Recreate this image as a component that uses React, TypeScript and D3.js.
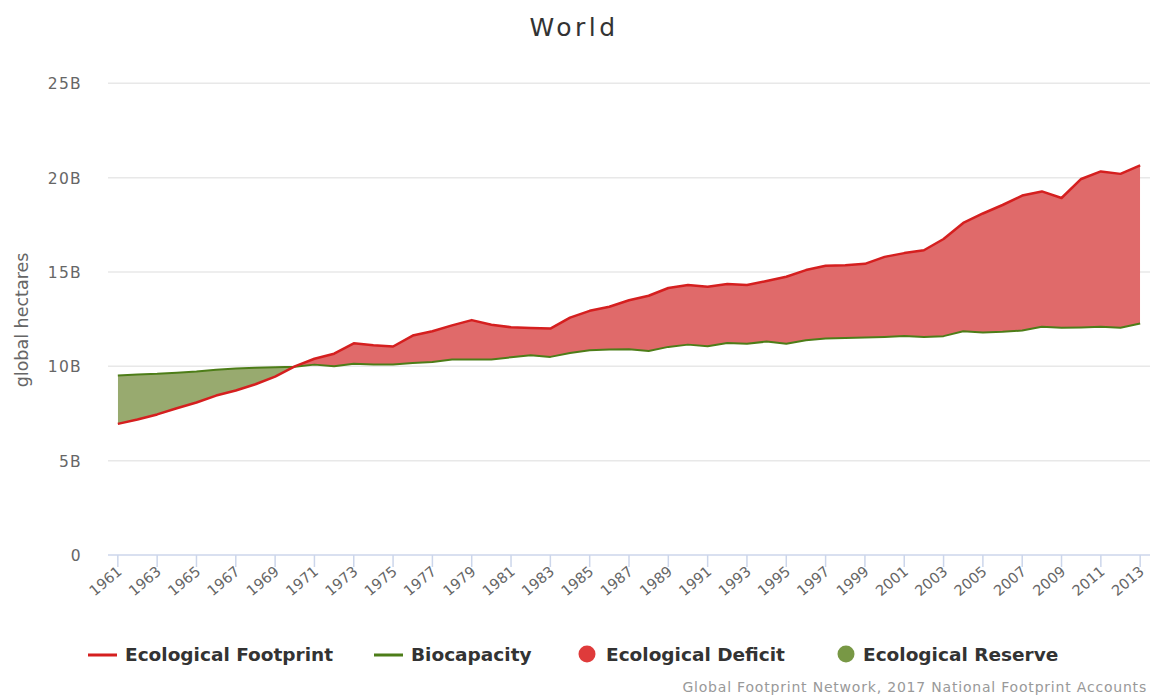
import React from 'react';
import * as d3 from 'd3';

const years = [1961,1962,1963,1964,1965,1966,1967,1968,1969,1970,1971,1972,1973,1974,1975,1976,1977,1978,1979,1980,1981,1982,1983,1984,1985,1986,1987,1988,1989,1990,1991,1992,1993,1994,1995,1996,1997,1998,1999,2000,2001,2002,2003,2004,2005,2006,2007,2008,2009,2010,2011,2012,2013];

// billions of global hectares
const footprint = [6.95,7.18,7.45,7.78,8.08,8.45,8.72,9.05,9.45,10.0,10.4,10.67,11.22,11.12,11.05,11.63,11.86,12.17,12.45,12.2,12.07,12.03,12.0,12.58,12.94,13.16,13.5,13.74,14.15,14.31,14.22,14.36,14.31,14.52,14.75,15.1,15.33,15.36,15.43,15.8,16.0,16.15,16.75,17.6,18.1,18.55,19.05,19.27,18.92,19.93,20.33,20.2,20.65];
const biocapacity = [9.52,9.57,9.6,9.66,9.72,9.82,9.88,9.92,9.95,9.98,10.09,10.0,10.14,10.1,10.1,10.18,10.23,10.36,10.36,10.36,10.48,10.59,10.5,10.71,10.85,10.89,10.9,10.81,11.03,11.15,11.06,11.24,11.2,11.31,11.2,11.38,11.47,11.5,11.53,11.56,11.61,11.56,11.6,11.86,11.79,11.83,11.9,12.1,12.04,12.06,12.1,12.04,12.27];

const yTicks = [0, 5, 10, 15, 20, 25];
const yTickLabels = ['0', '5B', '10B', '15B', '20B', '25B'];
const xTickYears = years.filter((_, i) => i % 2 === 0);

const legendLabels = ['Ecological Footprint', 'Biocapacity', 'Ecological Deficit', 'Ecological Reserve'];

const C = {
  fpLine: '#d51f1f',
  bcLine: '#4d7d18',
  deficit: '#e06a6a',
  reserve: '#98aa6f',
  deficitDot: '#df3b3b',
  reserveDot: '#789845',
};

export default function App() {
  const W = 1151, H = 696;
  const left = 108, right = 1150, top = 83.3, bottom = 555;
  const x = d3.scalePoint<number>().domain(years).range([left, right]).padding(0.5);
  const y = d3.scaleLinear().domain([0, 25]).range([bottom, top]);
  const data = years.map((yr, i) => ({ yr, fp: footprint[i], bc: biocapacity[i] }));
  type D = typeof data[number];
  const between = d3.area<D>().x(d => x(d.yr)!).y0(d => y(d.bc)).y1(d => y(d.fp))(data) || '';
  const aboveBio = d3.area<D>().x(d => x(d.yr)!).y0(0).y1(d => y(d.bc))(data) || '';
  const belowBio = d3.area<D>().x(d => x(d.yr)!).y0(H).y1(d => y(d.bc))(data) || '';
  const fpLine = d3.line<D>().x(d => x(d.yr)!).y(d => y(d.fp))(data) || '';
  const bcLine = d3.line<D>().x(d => x(d.yr)!).y(d => y(d.bc))(data) || '';
  const font = "'DejaVu Sans', sans-serif";

  return (
    <svg width={W} height={H} style={{ position: 'absolute', left: 0, top: 0, background: '#fff' }} fontFamily={font}>
      <defs>
        <clipPath id="above"><path d={aboveBio} /></clipPath>
        <clipPath id="below"><path d={belowBio} /></clipPath>
      </defs>
      <text x={574} y={36} textAnchor="middle" fontSize={25} letterSpacing={3.5} fill="#333">World</text>

      {yTicks.map((t, i) => (
        <g key={t}>
          {t !== 0 && <line x1={left} x2={right} y1={y(t)} y2={y(t)} stroke="#e8e8e8" strokeWidth={1.5} />}
          <text x={82} y={y(t) + 6} textAnchor="end" fontSize={15.5} letterSpacing={1.3} fill="#666">{yTickLabels[i]}</text>
        </g>
      ))}
      <text transform={`translate(28,${320}) rotate(-90)`} textAnchor="middle" fontSize={17.5} fill="#666">global hectares</text>

      <path d={between} fill={C.deficit} clipPath="url(#above)" />
      <path d={between} fill={C.reserve} clipPath="url(#below)" />
      <path d={bcLine} fill="none" stroke={C.bcLine} strokeWidth={2} strokeLinejoin="round" />
      <path d={fpLine} fill="none" stroke={C.fpLine} strokeWidth={2.5} strokeLinejoin="round" />

      <line x1={left} x2={right} y1={bottom} y2={bottom} stroke="#ccd6eb" strokeWidth={1.5} />
      {xTickYears.map(yr => (
        <g key={yr}>
          <line x1={x(yr)} x2={x(yr)} y1={bottom} y2={bottom + 12} stroke="#ccd6eb" strokeWidth={1.5} />
          <text transform={`translate(${x(yr)! + 5},${bottom + 18}) rotate(-40)`} textAnchor="end" fontSize={14.5} fill="#666">{yr}</text>
        </g>
      ))}

      <g fontSize={18.5} fontWeight="bold" fill="#333">
        <line x1={88} x2={117} y1={655} y2={655} stroke={C.fpLine} strokeWidth={3} />
        <text x={125} y={661}>{legendLabels[0]}</text>
        <line x1={374} x2={403} y1={655} y2={655} stroke={C.bcLine} strokeWidth={3} />
        <text x={411} y={661}>{legendLabels[1]}</text>
        <circle cx={587} cy={654} r={8.5} fill={C.deficitDot} />
        <text x={606} y={661}>{legendLabels[2]}</text>
        <circle cx={846} cy={654} r={8.5} fill={C.reserveDot} />
        <text x={863} y={661}>{legendLabels[3]}</text>
      </g>
      <text x={1147} y={692} textAnchor="end" fontSize={14} letterSpacing={0.8} fill="#999">Global Footprint Network, 2017 National Footprint Accounts</text>
    </svg>
  );
}
